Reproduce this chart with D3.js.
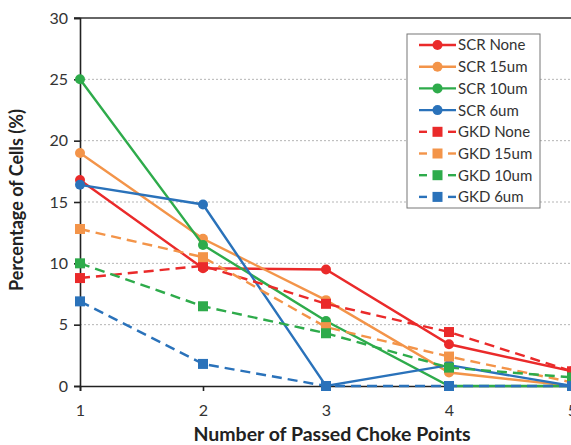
<!DOCTYPE html>
<html><head><meta charset="utf-8">
<script src="https://cdn.jsdelivr.net/npm/d3@7"></script>
<style>body{margin:0;background:#fff}svg{display:block}</style>
</head><body>
<script>
const categories = [1, 2, 3, 4, 5];
const seriesNames = ["SCR None","SCR 15um","SCR 10um","SCR 6um","GKD None","GKD 15um","GKD 10um","GKD 6um"];
const scrNone  = [16.8, 9.6, 9.5, 3.4, 1.2];
const scr15    = [19.0, 12.0, 7.0, 1.1, 0.0];
const scr10    = [25.0, 11.5, 5.3, 0.0, 0.0];
const scr6     = [16.4, 14.8, 0.0, 1.7, 0.0];
const gkdNone  = [8.8, 9.8, 6.7, 4.4, 1.2];
const gkd15    = [12.8, 10.5, 4.8, 2.4, 0.3];
const gkd10    = [10.0, 6.5, 4.3, 1.5, 0.7];
const gkd6     = [6.9, 1.8, 0.0, 0.0, 0.0];
const yTicks = [0, 5, 10, 15, 20, 25, 30];

const seriesValues = [scrNone, scr15, scr10, scr6, gkdNone, gkd15, gkd10, gkd6];
const palette = ["#EA2A2A", "#F39449", "#2EAB4B", "#2A72BA"];

const W = 571, H = 445;
const svg = d3.select("body").append("svg").attr("width", W).attr("height", H);
const font = "Lato, 'Open Sans', sans-serif";

const x = d3.scaleLinear().domain([1, 5]).range([80, 572]);
const y = d3.scaleLinear().domain([0, 30]).range([386, 18]);

// gridlines
svg.append("g").selectAll("line").data(yTicks.filter(t => t > 0 && t < 30)).join("line")
  .attr("x1", 80).attr("x2", W).attr("y1", d => y(d)).attr("y2", d => y(d))
  .attr("stroke", "#b5b5b5").attr("stroke-width", 1).attr("stroke-dasharray", "2,2");
// top border
svg.append("line").attr("x1", 74).attr("x2", W).attr("y1", y(30)).attr("y2", y(30))
  .attr("stroke", "#333").attr("stroke-width", 1.6);

// y axis
const yAxis = svg.append("g").attr("transform", "translate(80,0)")
  .call(d3.axisLeft(y).tickValues(yTicks).tickSize(6).tickPadding(6));
yAxis.select(".domain").attr("stroke", "#222").attr("stroke-width", 1.6);
yAxis.selectAll(".tick line").attr("stroke", "#222").attr("stroke-width", 1.6);
yAxis.selectAll("text").attr("font-family", font).attr("font-size", 16).attr("fill", "#333");

// x axis
const xAxis = svg.append("g").attr("transform", "translate(0,386)")
  .call(d3.axisBottom(x).tickValues(categories).tickFormat(d3.format("d")).tickSize(5).tickPadding(14));
xAxis.select(".domain").attr("stroke", "#222").attr("stroke-width", 1.6);
xAxis.selectAll(".tick line").attr("stroke", "#222").attr("stroke-width", 1.6);
xAxis.selectAll("text").attr("font-family", font).attr("font-size", 16).attr("fill", "#333");

// series
const line = d3.line().x((d, i) => x(categories[i])).y(d => y(d));
seriesValues.forEach((vals, si) => {
  const col = palette[si % 4];
  const dashed = si >= 4;
  const g = svg.append("g");
  g.append("path").datum(vals).attr("d", line).attr("fill", "none")
    .attr("stroke", col).attr("stroke-width", 2.4)
    .attr("stroke-dasharray", dashed ? "10,6" : null);
  if (dashed) {
    g.selectAll("rect").data(vals).join("rect")
      .attr("x", (d, i) => x(categories[i]) - 5).attr("y", d => y(d) - 5)
      .attr("width", 10).attr("height", 10).attr("fill", col);
  } else {
    g.selectAll("circle").data(vals).join("circle")
      .attr("cx", (d, i) => x(categories[i])).attr("cy", d => y(d))
      .attr("r", 5).attr("fill", col);
  }
});

// legend
const lg = svg.append("g");
lg.append("rect").attr("x", 407).attr("y", 34).attr("width", 133).attr("height", 174)
  .attr("fill", "#fff").attr("stroke", "#777").attr("stroke-width", 1);
seriesNames.forEach((name, i) => {
  const cy = 45 + i * 21.7;
  const col = palette[i % 4];
  if (i < 4) {
    lg.append("line").attr("x1", 419).attr("x2", 456).attr("y1", cy).attr("y2", cy)
      .attr("stroke", col).attr("stroke-width", 2.4);
    lg.append("circle").attr("cx", 437.5).attr("cy", cy).attr("r", 5).attr("fill", col);
  } else {
    lg.append("line").attr("x1", 419).attr("x2", 427).attr("y1", cy).attr("y2", cy)
      .attr("stroke", col).attr("stroke-width", 2.4);
    lg.append("line").attr("x1", 448).attr("x2", 456).attr("y1", cy).attr("y2", cy)
      .attr("stroke", col).attr("stroke-width", 2.4);
    lg.append("rect").attr("x", 432.5).attr("y", cy - 5).attr("width", 10).attr("height", 10).attr("fill", col);
  }
  lg.append("text").attr("x", 458).attr("y", cy).attr("dy", "0.36em")
    .attr("font-family", font).attr("font-size", 15).attr("fill", "#333").text(name);
});

// axis titles
svg.append("text").attr("x", 332).attr("y", 441).attr("text-anchor", "middle")
  .attr("font-family", font).attr("font-weight", "bold").attr("font-size", 19.5).attr("fill", "#222")
  .text("Number of Passed Choke Points");
svg.append("text").attr("transform", "translate(23,200) rotate(-90)").attr("text-anchor", "middle")
  .attr("font-family", font).attr("font-weight", "bold").attr("font-size", 18).attr("fill", "#222")
  .text("Percentage of Cells (%)");
</script>
</body></html>
